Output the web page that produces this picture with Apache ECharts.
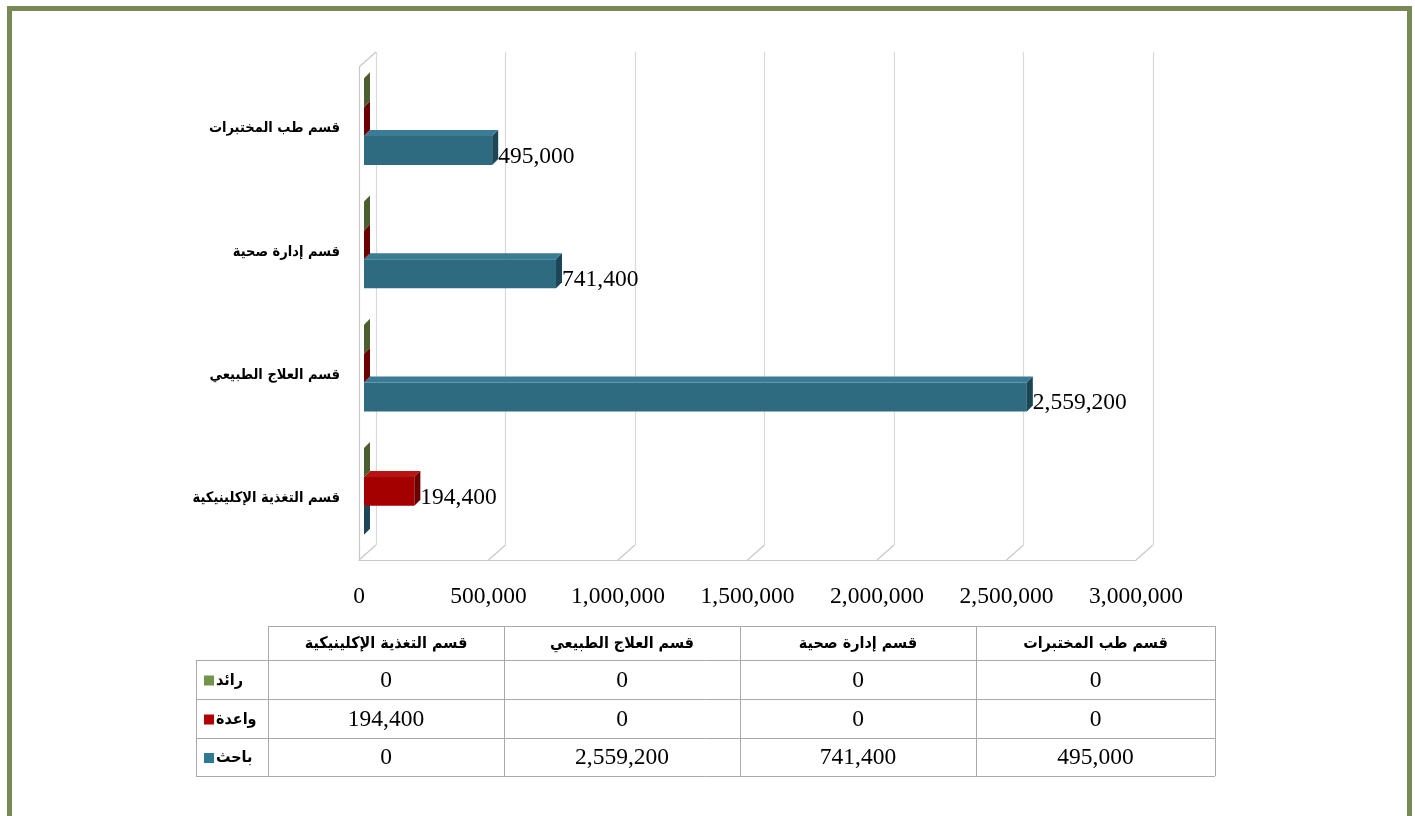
<!DOCTYPE html>
<html><head><meta charset="utf-8">
<script src="https://cdn.jsdelivr.net/npm/echarts/dist/echarts.min.js"></script>
<style>html,body{margin:0;padding:0;background:#fff;}#c{width:1415px;height:816px;}</style>
</head><body><div id="c"></div>
<script>
// ---- data ----
const categories = ['قسم التغذية الإكلينيكية', 'قسم العلاج الطبيعي', 'قسم إدارة صحية', 'قسم طب المختبرات'];
const seriesNames = ['باحث', 'واعدة', 'رائد'];
const bahith = [0, 2559200, 741400, 495000];
const waeda = [194400, 0, 0, 0];
const raed = [0, 0, 0, 0];
const xTicks = [0, 500000, 1000000, 1500000, 2000000, 2500000, 3000000];

// ---- styles ----
const seriesValues = [bahith, waeda, raed];
const faceColors = [
  {front: '#2E6B80', top: '#3A7C93', side: '#1C4656', key: '#2F7A93'},
  {front: '#A50000', top: '#B81414', side: '#6A0000', key: '#B00000'},
  {front: '#5E7540', top: '#6E8649', side: '#4A5E30', key: '#72934A'}
];
const NUM_FONT = "'Liberation Serif', 'Times New Roman', serif";
const AR_FONT = "'DejaVu Sans Condensed', 'DejaVu Sans', sans-serif";
const NUM_SIZE = 23.5;
const fmt = v => v.toLocaleString('en-US');
const DX = 17, DY = 15;     // wall depth
const BD = 6;               // bar depth

const chart = echarts.init(document.getElementById('c'), null, {renderer: 'canvas'});

function barRender(sIdx) {
  return function (params, api) {
    const val = api.value(0), ci = api.value(1);
    const base = api.coord([0, ci]);
    const end = api.coord([val, ci]);
    const band = api.size([0, 1])[1];
    const bw = band * 0.235;
    const yc = base[1] - 7 + (1 - sIdx) * bw;
    const y0 = yc - bw / 2, y1 = yc + bw / 2;
    const x0 = base[0] + 5, x1 = end[0] + 5;
    const c = faceColors[sIdx];
    const children = [];
    if (x1 > x0) {
      children.push({type: 'rect', shape: {x: x0, y: y0, width: x1 - x0, height: bw}, style: {fill: c.front}});
      children.push({type: 'polygon', shape: {points: [[x0, y0], [x1, y0], [x1 + BD, y0 - BD], [x0 + BD, y0 - BD]]}, style: {fill: c.top}});
    }
    children.push({type: 'polygon', shape: {points: [[x1, y0], [x1 + BD, y0 - BD], [x1 + BD, y1 - BD], [x1, y1]]}, style: {fill: c.side}});
    if (val > 0) {
      children.push({type: 'text', style: {text: fmt(val), x: x1 + BD, y: yc + 6, fill: '#000',
        font: NUM_SIZE + 'px ' + NUM_FONT, align: 'left', verticalAlign: 'middle', textAlign: 'left', textVerticalAlign: 'middle'}});
    }
    return {type: 'group', children};
  };
}

const barSeries = seriesValues.map((vals, s) => ({
  type: 'custom', name: seriesNames[s], xAxisIndex: 0, yAxisIndex: 0,
  renderItem: barRender(s),
  data: vals.map((v, i) => [v, i]),
  z: 10 + s
}));

const floorSeries = {
  type: 'custom', xAxisIndex: 0, yAxisIndex: 0, silent: true, z: 3,
  renderItem: function (params, api) {
    const v = api.value(0);
    const p = api.coord([v, 0]);
    const cs = params.coordSys;
    const yb = cs.y + cs.height;
    const children = [{type: 'line', shape: {x1: p[0], y1: yb, x2: p[0] + DX, y2: yb - DY}, style: {stroke: '#c8c8c8', lineWidth: 1.2}}];
    if (params.dataIndex === 0) {
      children.push({type: 'line', shape: {x1: cs.x, y1: cs.y, x2: cs.x + DX, y2: cs.y - DY}, style: {stroke: '#c8c8c8', lineWidth: 1.2}});
    }
    return {type: 'group', children};
  },
  data: xTicks.map(v => [v, 0])
};

// ---- table ----
const T = {x0: 196, xh: 268, cols: [268, 504, 740, 976, 1215], yTop: 626, rows: [660, 699, 738, 776]};
const tableRowsTopDown = [2, 1, 0]; // series index per row: رائد, واعدة, باحث
const g = [];
const lineStyle = {stroke: '#a9a9a9', lineWidth: 1};
function hl(x1, x2, y) { g.push({type: 'line', shape: {x1, y1: y + 0.5, x2, y2: y + 0.5}, style: lineStyle, silent: true}); }
function vl(x, y1, y2) { g.push({type: 'line', shape: {x1: x + 0.5, y1, x2: x + 0.5, y2}, style: lineStyle, silent: true}); }
hl(T.xh, T.cols[4], T.yTop);
T.rows.forEach(y => hl(T.x0, T.cols[4], y));
vl(T.x0, T.rows[0], T.rows[3]);
T.cols.forEach(x => vl(x, T.yTop, T.rows[3]));
categories.forEach((cat, i) => {
  g.push({type: 'text', silent: true, style: {text: cat, x: (T.cols[i] + T.cols[i + 1]) / 2, y: (T.yTop + T.rows[0]) / 2 + 1,
    fill: '#000', font: 'bold 16px ' + AR_FONT, align: 'center', verticalAlign: 'middle', textAlign: 'center', textVerticalAlign: 'middle'}});
});
tableRowsTopDown.forEach((s, r) => {
  const yc = (T.rows[r] + T.rows[r + 1]) / 2 + 1;
  g.push({type: 'rect', silent: true, shape: {x: 204, y: yc - 5, width: 10, height: 10}, style: {fill: faceColors[s].key}});
  g.push({type: 'text', silent: true, style: {text: seriesNames[s], x: 216, y: yc, fill: '#000',
    font: 'bold 16px ' + AR_FONT, align: 'left', verticalAlign: 'middle', textAlign: 'left', textVerticalAlign: 'middle'}});
  seriesValues[s].forEach((v, i) => {
    g.push({type: 'text', silent: true, style: {text: fmt(v), x: (T.cols[i] + T.cols[i + 1]) / 2, y: yc,
      fill: '#000', font: NUM_SIZE + 'px ' + NUM_FONT, align: 'center', verticalAlign: 'middle', textAlign: 'center', textVerticalAlign: 'middle'}});
  });
});
// frame
g.push({type: 'rect', silent: true, shape: {x: 9.5, y: 8.5, width: 1400, height: 900}, style: {fill: 'none', stroke: '#778A55', lineWidth: 5}, z: 100});

chart.setOption({
  animation: false,
  backgroundColor: '#fff',
  grid: [
    {left: 359, top: 67, width: 777, height: 493},
    {left: 359 + DX, top: 67 - DY, width: 777, height: 493}
  ],
  xAxis: [
    {type: 'value', gridIndex: 0, min: 0, max: 3000000, interval: 500000,
      axisLine: {show: true, lineStyle: {color: '#c8c8c8', width: 1.2}}, axisTick: {show: false}, splitLine: {show: false},
      axisLabel: {formatter: v => fmt(v), color: '#000', fontFamily: NUM_FONT, fontSize: NUM_SIZE, margin: 25}},
    {type: 'value', gridIndex: 1, min: 0, max: 3000000, interval: 500000,
      axisLine: {show: false}, axisTick: {show: false}, axisLabel: {show: false},
      splitLine: {show: true, lineStyle: {color: '#d9d9d9', width: 1.2}}}
  ],
  yAxis: [
    {type: 'category', gridIndex: 0, data: categories,
      axisLine: {show: true, lineStyle: {color: '#c8c8c8', width: 1.2}}, axisTick: {show: false},
      axisLabel: {color: '#000', fontFamily: AR_FONT, fontWeight: 'bold', fontSize: 14.5, margin: 19}},
    {type: 'category', gridIndex: 1, data: categories,
      axisLine: {show: false}, axisTick: {show: false}, axisLabel: {show: false}, splitLine: {show: false}}
  ],
  graphic: g,
  series: [floorSeries].concat(barSeries)
});
</script>
</body></html>
